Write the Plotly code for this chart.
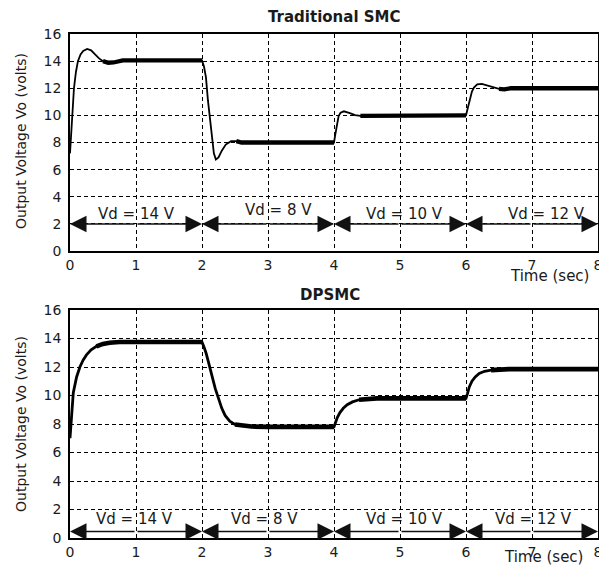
import plotly.graph_objects as go

# ---------------- data ----------------
top_t = [0, 0.02, 0.04, 0.06, 0.09, 0.12, 0.16, 0.2, 0.26, 0.32, 0.38, 0.44, 0.5, 0.58, 0.66, 0.74, 0.8, 1.2, 1.6, 2.0,
         2.03, 2.06, 2.09, 2.12, 2.15, 2.18, 2.21, 2.25, 2.3, 2.36, 2.44, 2.52, 2.6, 3.0, 3.5, 4.0,
         4.02, 4.04, 4.07, 4.1, 4.15, 4.24, 4.32, 4.4, 4.5, 4.6, 5.0, 5.5, 6.0,
         6.03, 6.06, 6.09, 6.12, 6.17, 6.24, 6.32, 6.4, 6.5, 6.58, 6.68, 7.0, 7.5, 8.0]
top_v = [7.2, 9.0, 10.6, 12.0, 13.2, 14.0, 14.5, 14.75, 14.9, 14.8, 14.5, 14.2, 14.0, 13.88, 13.9, 14.0, 14.05, 14.05, 14.05, 14.05,
         13.6, 12.8, 11.1, 9.7, 8.2, 7.2, 6.75, 6.9, 7.4, 7.85, 8.1, 8.1, 8.0, 8.0, 8.0, 8.0,
         8.6, 9.3, 9.95, 10.2, 10.3, 10.17, 10.02, 9.97, 9.97, 10.0, 10.0, 10.0, 10.0,
         10.6, 11.3, 11.75, 12.05, 12.28, 12.32, 12.2, 12.08, 11.95, 11.92, 12.0, 12.0, 12.0, 12.0]
top_thick = [(0.5, 2.0), (2.5, 4.0), (4.4, 6.0), (6.5, 8.0)]

bot_t = [0, 0.02, 0.05, 0.1, 0.15, 0.2, 0.25, 0.32, 0.4, 0.5, 0.6, 0.75, 1.0, 1.5, 2.0,
         2.03, 2.06, 2.1, 2.15, 2.2, 2.25, 2.3, 2.35, 2.42, 2.5, 2.6, 2.75, 3.0, 3.5, 4.0,
         4.02, 4.05, 4.09, 4.14, 4.2, 4.28, 4.38, 4.5, 4.65, 5.0, 5.5, 6.0,
         6.02, 6.05, 6.09, 6.14, 6.2, 6.28, 6.38, 6.5, 6.65, 7.0, 7.5, 8.0]
bot_v = [7.0, 8.5, 10.2, 11.3, 12.0, 12.5, 12.85, 13.2, 13.45, 13.62, 13.7, 13.75, 13.75, 13.75, 13.75,
         13.4, 13.0, 12.3, 11.35, 10.5, 9.8, 9.1, 8.6, 8.2, 7.97, 7.88, 7.82, 7.8, 7.8, 7.8,
         8.1, 8.45, 8.8, 9.1, 9.35, 9.55, 9.7, 9.77, 9.8, 9.8, 9.8, 9.8,
         10.1, 10.6, 11.0, 11.3, 11.55, 11.7, 11.78, 11.83, 11.85, 11.85, 11.85, 11.85]
bot_thick = [(0.4, 2.0), (2.45, 4.0), (4.3, 6.0), (6.3, 8.0)]

seg_bounds = [0, 2, 4, 6, 8]
seg_labels = ["Vd = 14 V", "Vd = 8 V", "Vd = 10 V", "Vd = 12 V"]
top_label_x = [1.0, 3.16, 5.07, 7.22]
top_label_y = [2.75, 3.0, 2.75, 2.75]
bot_label_x = [0.98, 2.94, 5.07, 7.03]
bot_label_y = [1.3, 1.3, 1.3, 1.3]
top_arrow_level = 2.0
bot_arrow_level = 0.45

x_ticks = [0, 1, 2, 3, 4, 5, 6, 7, 8]
y_ticks = [0, 2, 4, 6, 8, 10, 12, 14, 16]

FONT = "DejaVu Sans"
TXT = "#1a1a1a"

# page has an 8px body margin: figure is drawn 8px in from the top-left
OFF = 8
W, H = 607 - OFF, 567 - OFF


def px_x(p):
    return (p - OFF) / W


def px_y(p):
    return 1 - (p - OFF) / H


def thick_parts(t, v, ranges):
    xs, ys = [], []
    for a, b in ranges:
        for ti, vi in zip(t, v):
            if a <= ti <= b:
                xs.append(ti)
                ys.append(vi)
        xs.append(None)
        ys.append(None)
    return xs, ys


fig = go.Figure()

# top panel
fig.add_trace(go.Scatter(x=top_t, y=top_v, mode="lines", line=dict(color="black", width=1.8),
                         xaxis="x", yaxis="y", hoverinfo="skip"))
tx, ty = thick_parts(top_t, top_v, top_thick)
fig.add_trace(go.Scatter(x=tx, y=ty, mode="lines", line=dict(color="black", width=4.3),
                         xaxis="x", yaxis="y", hoverinfo="skip", connectgaps=False))

# bottom panel
fig.add_trace(go.Scatter(x=bot_t, y=bot_v, mode="lines", line=dict(color="black", width=2.8),
                         xaxis="x2", yaxis="y2", hoverinfo="skip"))
bx, by = thick_parts(bot_t, bot_v, bot_thick)
fig.add_trace(go.Scatter(x=bx, y=by, mode="lines", line=dict(color="black", width=4.6),
                         xaxis="x2", yaxis="y2", hoverinfo="skip", connectgaps=False))

annotations = []


def add_arrows(xr, yr, level, labels_x, labels_y):
    for i in range(len(seg_bounds) - 1):
        a, b = seg_bounds[i], seg_bounds[i + 1]
        mid = (a + b) / 2
        for tip in (a, b):
            annotations.append(dict(
                x=tip, y=level, ax=mid, ay=level, xref=xr, yref=yr, axref=xr, ayref=yr,
                text="", showarrow=True, arrowhead=2, arrowsize=2.2, arrowwidth=1.5,
                arrowcolor="#111", standoff=0, startstandoff=0))
        annotations.append(dict(
            x=labels_x[i], y=labels_y[i], xref=xr, yref=yr, text=seg_labels[i], showarrow=False,
            font=dict(family=FONT, size=15, color=TXT), xanchor="center", yanchor="middle"))


add_arrows("x", "y", top_arrow_level, top_label_x, top_label_y)
add_arrows("x2", "y2", bot_arrow_level, bot_label_x, bot_label_y)

# titles and axis labels
annotations += [
    dict(x=px_x(334), y=px_y(17), xref="paper", yref="paper", text="<b>Traditional SMC</b>",
         showarrow=False, font=dict(family=FONT, size=15, color=TXT), xanchor="center", yanchor="middle"),
    dict(x=px_x(330), y=px_y(295), xref="paper", yref="paper", text="<b>DPSMC</b>",
         showarrow=False, font=dict(family=FONT, size=15, color=TXT), xanchor="center", yanchor="middle"),
    dict(x=px_x(21), y=px_y(141), xref="paper", yref="paper", text="Output Voltage Vo (volts)",
         textangle=-90, showarrow=False, font=dict(family=FONT, size=14, color=TXT),
         xanchor="center", yanchor="middle"),
    dict(x=px_x(21), y=px_y(424), xref="paper", yref="paper", text="Output Voltage Vo (volts)",
         textangle=-90, showarrow=False, font=dict(family=FONT, size=14, color=TXT),
         xanchor="center", yanchor="middle"),
    dict(x=px_x(549), y=px_y(276), xref="paper", yref="paper", text="Time (sec)",
         showarrow=False, font=dict(family=FONT, size=15, color=TXT), xanchor="center", yanchor="middle"),
    dict(x=px_x(543), y=px_y(557), xref="paper", yref="paper", text="Time (sec)",
         showarrow=False, font=dict(family=FONT, size=15, color=TXT), xanchor="center", yanchor="middle"),
]

xd = [px_x(70), px_x(598)]
common_x = dict(range=[0, 8], tickvals=x_ticks, showgrid=True, gridcolor="black", gridwidth=1,
                griddash="4px,3px", showline=True, linecolor="black", linewidth=1.5, mirror=True,
                zeroline=False, ticks="", tickfont=dict(family=FONT, size=14, color=TXT),
                automargin=False, fixedrange=True)
common_y = dict(range=[0, 16], tickvals=y_ticks, showgrid=True, gridcolor="black", gridwidth=1,
                griddash="4px,3px", showline=True, linecolor="black", linewidth=1.5, mirror=True,
                zeroline=False, ticks="", tickfont=dict(family=FONT, size=14, color=TXT),
                ticklabelstandoff=4, automargin=False, fixedrange=True)

fig.update_layout(
    width=W, height=H, margin=dict(l=0, r=0, t=0, b=0, autoexpand=False),
    paper_bgcolor="white", plot_bgcolor="white", showlegend=False,
    xaxis=dict(domain=xd, anchor="y", **common_x),
    yaxis=dict(domain=[px_y(251), px_y(34)], anchor="x", **common_y),
    xaxis2=dict(domain=xd, anchor="y2", **common_x),
    yaxis2=dict(domain=[px_y(538), px_y(310)], anchor="x2", **common_y),
    annotations=annotations,
)

fig.write_html("out.html")
